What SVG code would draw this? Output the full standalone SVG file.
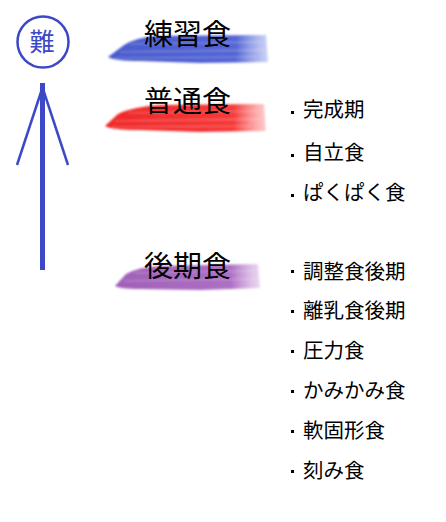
<svg xmlns="http://www.w3.org/2000/svg" width="446" height="522" viewBox="0 0 446 522">
<style>
.h{font-family:"Noto Sans CJK JP","Noto Sans",sans-serif;font-size:29px;fill:#000}
.li{font-family:"Noto Sans CJK JP","Noto Sans",sans-serif;font-size:20.5px;fill:#000}
.b{fill:#000}
.st{stroke:#fff;stroke-opacity:0.28;stroke-width:1.2;fill:none}
</style>
<defs>
<filter id="blur" x="-10%" y="-30%" width="120%" height="160%"><feGaussianBlur stdDeviation="1"/></filter>
<linearGradient id="gb" x1="0" x2="1"><stop offset="0" stop-color="#4a5ccc"/><stop offset="0.8" stop-color="#5466d6"/><stop offset="1" stop-color="#9aa6ec" stop-opacity="0.5"/></linearGradient>
<linearGradient id="gr" x1="0" x2="1"><stop offset="0" stop-color="#f02828"/><stop offset="0.8" stop-color="#f53a3a"/><stop offset="1" stop-color="#f99" stop-opacity="0.5"/></linearGradient>
<linearGradient id="gp" x1="0" x2="1"><stop offset="0" stop-color="#a060b8"/><stop offset="0.8" stop-color="#ad70c4"/><stop offset="1" stop-color="#d6b2e0" stop-opacity="0.5"/></linearGradient>
</defs>
<g id="bands">
<g filter="url(#blur)">
<path d="M108,57 L124,45 Q135,38 155,36 L266,35 L268,62 L200,63 L140,61 Q115,61 108,57 Z" fill="url(#gb)"/>
<path class="st" d="M120,52 L265,50 M130,44 L262,42 M115,58 L255,57"/>
</g>
<g filter="url(#blur)">
<path d="M105,126 L118,114 Q132,107 160,105 L264,104 L266,131 L200,132 L140,130 Q112,130 105,126 Z" fill="url(#gr)"/>
<path class="st" d="M115,121 L262,119 M128,113 L260,111 M112,127 L250,126"/>
</g>
<g filter="url(#blur)">
<path d="M115,286 L126,274 Q138,267 160,266 L258,264 L260,288 L200,290 L140,289 Q120,289 115,286 Z" fill="url(#gp)"/>
<path class="st" d="M124,281 L256,279 M134,273 L254,271"/>
</g>
</g>
<g id="n-hard">
<circle cx="43" cy="42" r="25.5" fill="none" stroke="#3c48c8" stroke-width="2.5"/>
<text x="42" y="51" text-anchor="middle" style="font-family:'Noto Sans CJK JP',sans-serif;font-size:25px;fill:#3c48c8">難</text>
</g>
<g id="connectors">
<line x1="42.5" y1="83" x2="42.5" y2="270" stroke="#3c48c8" stroke-width="5"/>
<line x1="42" y1="89" x2="17" y2="165" stroke="#3c48c8" stroke-width="2.5"/>
<line x1="43" y1="89" x2="68" y2="165" stroke="#3c48c8" stroke-width="2.5"/>
</g>
<g id="n-renshu"><text class="h" x="144" y="45">練習食</text></g>
<g id="n-futsu"><text class="h" x="144" y="112">普通食</text></g>
<g id="n-kouki"><text class="h" x="144" y="277">後期食</text></g>
<g id="list-futsu">
<rect class="b" x="291" y="111" width="3" height="3"/><text class="li" x="303" y="117">完成期</text>
<rect class="b" x="291" y="154" width="3" height="3"/><text class="li" x="303" y="160">自立食</text>
<rect class="b" x="291" y="194" width="3" height="3"/><text class="li" x="303" y="200">ぱくぱく食</text>
</g>
<g id="list-kouki">
<rect class="b" x="291" y="270" width="3" height="3"/><text class="li" x="303" y="279">調整食後期</text>
<rect class="b" x="291" y="310" width="3" height="3"/><text class="li" x="303" y="318">離乳食後期</text>
<rect class="b" x="291" y="350" width="3" height="3"/><text class="li" x="303" y="358">圧力食</text>
<rect class="b" x="291" y="390" width="3" height="3"/><text class="li" x="303" y="398">かみかみ食</text>
<rect class="b" x="291" y="430" width="3" height="3"/><text class="li" x="303" y="438">軟固形食</text>
<rect class="b" x="291" y="470" width="3" height="3"/><text class="li" x="303" y="478">刻み食</text>
</g>
</svg>
